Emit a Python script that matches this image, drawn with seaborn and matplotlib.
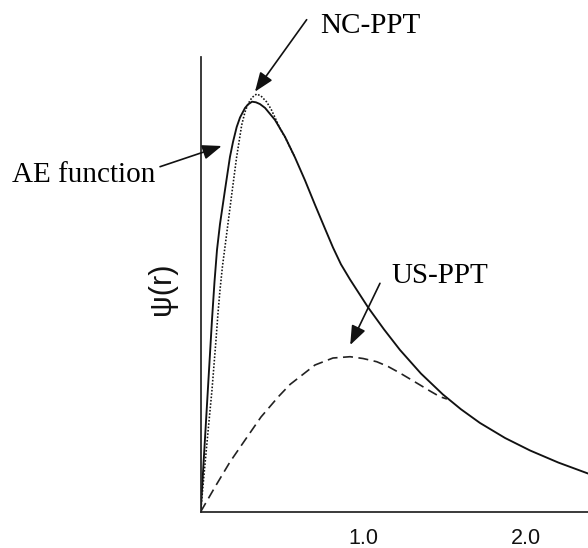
import matplotlib
matplotlib.use("Agg")
import matplotlib.pyplot as plt
import seaborn as sns
import pandas as pd

# ---- data ----
ae_r = [0, 0.0265, 0.0511, 0.0695, 0.0849, 0.1003, 0.1188, 0.1495, 0.180, 0.1988,
        0.2215, 0.242, 0.2726, 0.291, 0.316, 0.340, 0.365, 0.396, 0.457, 0.519,
        0.580, 0.642, 0.703, 0.765, 0.814, 0.863, 0.919, 1.030, 1.128, 1.226, 1.355,
        1.490, 1.601, 1.718, 1.873, 2.027, 2.200, 2.390]
ae_psi = [0, 0.731, 1.411, 1.917, 2.297, 2.617, 2.877, 3.217, 3.547, 3.697,
          3.847, 3.942, 4.037, 4.072, 4.100, 4.094, 4.076, 4.038, 3.918, 3.748,
          3.543, 3.313, 3.070, 2.830, 2.642, 2.474, 2.322, 2.043, 1.823, 1.618, 1.382,
          1.173, 1.025, 0.888, 0.737, 0.612, 0.492, 0.378]

nc_r = [0, 0.0203, 0.0449, 0.0695, 0.0942, 0.1065, 0.1188, 0.1342, 0.1526, 0.1865,
        0.2203, 0.2523, 0.2726, 0.291, 0.3157, 0.3446, 0.3711, 0.4062, 0.4326,
        0.4572, 0.488, 0.5187, 0.580]
nc_psi = [0, 0.367, 0.797, 1.217, 1.717, 1.987, 2.217, 2.457, 2.687, 3.117,
          3.537, 3.867, 3.997, 4.077, 4.142, 4.177, 4.157, 4.097, 4.027,
          3.942, 3.832, 3.747, 3.543]

us_r = [0, 0.088, 0.180, 0.273, 0.371, 0.478, 0.550, 0.611, 0.703, 0.814, 0.919,
        0.999, 1.083, 1.153, 1.226, 1.350, 1.411, 1.472, 1.515]
us_psi = [0, 0.247, 0.497, 0.717, 0.947, 1.150, 1.273, 1.350, 1.467, 1.537, 1.550,
          1.532, 1.500, 1.452, 1.387, 1.267, 1.207, 1.150, 1.127]

xtick_vals = [1.0, 2.0]
xtick_labels = ["1.0", "2.0"]

sns.set_style("white")
plt.rcParams["font.family"] = ["Liberation Serif", "DejaVu Serif"]
plt.rcParams["text.color"] = "black"
plt.rcParams["xtick.color"] = "#222222"
plt.rcParams["xtick.labelcolor"] = "#111111"

fig = plt.figure(figsize=(5.88, 5.48), dpi=100)
ax = fig.add_axes([0.3413, 0.0662, 1.0 - 0.3413, 0.896 - 0.0662])

ink = "#111111"
df_ae = pd.DataFrame({"r": ae_r, "psi": ae_psi})
df_nc = pd.DataFrame({"r": nc_r, "psi": nc_psi})
df_us = pd.DataFrame({"r": us_r, "psi": us_psi})

sns.lineplot(data=df_ae, x="r", y="psi", ax=ax, color=ink, lw=1.35, sort=False,
             estimator=None)
sns.lineplot(data=df_nc, x="r", y="psi", ax=ax, color=ink, lw=1.15, sort=False,
             estimator=None, linestyle=(0, (1.0, 1.1)))
sns.lineplot(data=df_us, x="r", y="psi", ax=ax, color="#222222", lw=1.2, sort=False,
             estimator=None, linestyle=(0, (6, 3.3)))

ax.set_xlim(0, 2.383)
ax.set_ylim(0, 4.547)
ax.set_xlabel("")
ax.set_ylabel("")
for s in ["top", "right"]:
    ax.spines[s].set_visible(False)
for s in ["left", "bottom"]:
    ax.spines[s].set_linewidth(1.25)
    ax.spines[s].set_color("#222222")
ax.set_yticks([])
ax.set_xticks(xtick_vals)
ax.set_xticklabels(xtick_labels, family=["Liberation Sans", "DejaVu Sans"], fontsize=15.5,
                   color="#111111")
ax.tick_params(axis="x", direction="in", length=14.4, width=1.1, color="#222222",
               pad=11.5)

fig.text(162 / 588, 1 - 289 / 548, "ψ(r)", rotation=90, ha="center", va="center",
         family=["Liberation Sans", "DejaVu Sans"], fontsize=22, color="#111111")

aprops = dict(arrowstyle="-|>,head_length=0.65,head_width=0.25", color=ink, lw=1.2,
              shrinkA=0, shrinkB=0, mutation_scale=18)

# NC-PPT
ax.text(0.734, 4.787, "NC-PPT", fontsize=21, ha="left", va="baseline", clip_on=False,
        color="black")
ax.annotate("", xy=(0.334, 4.20), xytext=(0.652, 4.92), arrowprops=aprops,
            annotation_clip=False)
# AE function
ax.text(-1.163, 3.30, "AE function", fontsize=21, ha="left", va="baseline", clip_on=False,
        color="black")
ax.annotate("", xy=(0.129, 3.657), xytext=(-0.250, 3.45), arrowprops=aprops,
            annotation_clip=False)
# US-PPT
ax.text(1.175, 2.284, "US-PPT", fontsize=21, ha="left", va="baseline", clip_on=False,
        color="black")
ax.annotate("", xy=(0.92, 1.667), xytext=(1.103, 2.284), arrowprops=aprops,
            annotation_clip=False)

fig.savefig("out.png", dpi=100)
